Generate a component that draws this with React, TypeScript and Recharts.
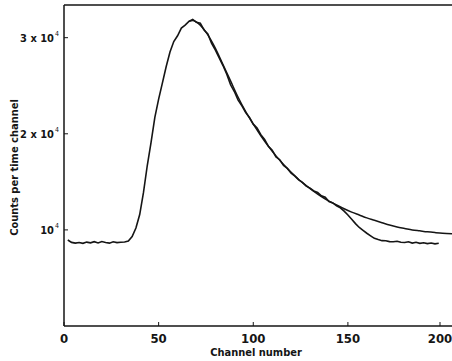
import { LineChart, Line, XAxis, YAxis, ReferenceLine } from "recharts";

// measured spectrum, every second channel
const channels = [
  2, 4, 6, 8, 10, 12, 14, 16, 18, 20, 22, 24, 26, 28, 30, 32, 34, 36, 38, 40,
  42, 44, 46, 48, 50, 52, 54, 56, 58, 60, 62, 64, 66, 68, 70, 72, 74, 76, 78, 80,
  82, 84, 86, 88, 90, 92, 94, 96, 98, 100, 102, 104, 106, 108, 110, 112, 114, 116, 118, 120,
  122, 124, 126, 128, 130, 132, 134, 136, 138, 140, 142, 144, 146, 148, 150, 152, 154, 156, 158, 160,
  162, 164, 166, 168, 170, 172, 174, 176, 178, 180, 182, 184, 186, 188, 190, 192, 194, 196, 198,
];
const counts = [
  8950, 8700, 8620, 8690, 8600, 8730, 8650, 8770, 8640, 8790, 8690, 8620, 8760, 8680, 8710, 8740, 8830, 9300, 10200, 11600,
  13900, 16700, 19100, 21700, 23600, 25300, 27000, 28500, 29600, 30200, 31000, 31300, 31700, 31900, 31600, 31500, 30800, 30400, 29400, 28700,
  27900, 27100, 26200, 25100, 24400, 23500, 22900, 22200, 21700, 21000, 20600, 19900, 19400, 18700, 18300, 17600, 17300, 16700, 16400, 15900,
  15600, 15200, 14950, 14550, 14350, 14050, 13900, 13550, 13400, 12950, 12800, 12500, 12300, 11950, 11550, 11100, 10650, 10250, 9950, 9650,
  9380, 9120, 8990, 8880, 8870, 8780, 8760, 8820, 8710, 8690, 8760, 8630, 8710, 8600, 8660, 8570, 8630, 8550, 8610,
];

// fitted decay curve
const fitChannels = [
  66, 68, 72, 76, 80, 84, 88, 92, 96, 100, 104, 108, 112, 116, 120, 124, 128, 132,
  136, 140, 144, 148, 152, 156, 160, 164, 168, 172, 176, 180, 184, 188, 192, 196, 200, 205,
];
const fitCounts = [
  31700, 31800, 31300, 30300, 28900, 27200, 25500, 23800, 22300, 21000, 19800, 18700, 17700, 16800, 16000, 15250, 14600, 14000,
  13450, 13000, 12600, 12200, 11850, 11550, 11250, 11000, 10750, 10500, 10300, 10150, 10000, 9900, 9800, 9720, 9650, 9600,
];

const xTicks = [0, 50, 100, 150, 200];
const topTicks = [50, 100, 150, 200];
const yTicks = [10000, 20000, 30000];
const yTickLabels: Record<number, [string, string]> = {
  10000: ["10", "4"],
  20000: ["2 x 10", "4"],
  30000: ["3 x 10", "4"],
};

const measured = channels.map((ch, i) => ({ ch, v: counts[i] }));
const fitted = fitChannels.map((ch, i) => ({ ch, v: fitCounts[i] }));

const FONT = "'DejaVu Sans Condensed', 'DejaVu Sans', sans-serif";
const INK = "#151515";

const XTick = ({ x, y, payload }: any) => (
  <g>
    <line x1={x} x2={x} y1={y} y2={y - 4} stroke={INK} strokeWidth={1} />
    <text x={x} y={y + 17} textAnchor="middle" fontSize={13} fontWeight={600} fontFamily={FONT} fill={INK}>
      {payload.value}
    </text>
  </g>
);

const TopTick = ({ x, y }: any) => (
  <line x1={x} x2={x} y1={y} y2={y + 4} stroke={INK} strokeWidth={1} />
);

const YTick = ({ x, y, payload }: any) => {
  const [base, exp] = yTickLabels[payload.value] ?? [String(payload.value), ""];
  return (
    <g>
      <line x1={x} x2={x + 4} y1={y} y2={y} stroke={INK} strokeWidth={1} />
      <text x={x - 10} y={y + 4} textAnchor="end" fontSize={11} fontWeight={600} fontFamily={FONT} fill={INK}>
        {base}
      </text>
      <text x={x - 9} y={y - 2} textAnchor="start" fontSize={7} fontFamily={FONT} fill={INK}>
        {exp}
      </text>
    </g>
  );
};

const YLabel = ({ viewBox }: any) => {
  const cx = 14;
  const cy = viewBox.y + viewBox.height / 2 + 2;
  return (
    <text
      x={cx}
      y={cy}
      transform={`rotate(-90 ${cx} ${cy})`}
      textAnchor="middle"
      dominantBaseline="central"
      fontSize={11}
      fontWeight={600}
      fontFamily={FONT}
      fill={INK}
    >
      Counts per time channel
    </text>
  );
};

const XLabel = ({ viewBox }: any) => (
  <text
    x={viewBox.x + viewBox.width / 2 - 2}
    y={viewBox.y + 30}
    textAnchor="middle"
    fontSize={11}
    fontWeight={600}
    fontFamily={FONT}
    fill={INK}
  >
    Channel number
  </text>
);

export default function App() {
  return (
    <div style={{ position: "absolute", left: 0, top: 0, width: 452, height: 361, background: "#fff" }}>
      <LineChart width={452} height={361} margin={{ top: 5, right: 0, bottom: 0, left: 0 }}>
        <XAxis
          dataKey="ch"
          type="number"
          domain={[0, 205]}
          ticks={xTicks}
          height={35}
          tickSize={0}
          tickMargin={0}
          tickLine={false}
          tick={<XTick />}
          axisLine={{ stroke: INK, strokeWidth: 1.5 }}
          allowDuplicatedCategory={false}
          label={<XLabel />}
        />
        <XAxis
          xAxisId="top"
          orientation="top"
          dataKey="ch"
          type="number"
          domain={[0, 205]}
          ticks={topTicks}
          height={0}
          tickSize={0}
          tickMargin={0}
          tickLine={false}
          tick={<TopTick />}
          axisLine={false}
        />
        <YAxis
          type="number"
          domain={[0, 33400]}
          ticks={yTicks}
          width={64}
          tickSize={0}
          tickMargin={0}
          tickLine={false}
          tick={<YTick />}
          axisLine={{ stroke: INK, strokeWidth: 1.5 }}
          label={<YLabel />}
        />
        <ReferenceLine y={33400} stroke={INK} strokeWidth={1.5} ifOverflow="visible" />
        <Line
          data={measured}
          dataKey="v"
          type="linear"
          stroke={INK}
          strokeWidth={1.6}
          dot={false}
          isAnimationActive={false}
        />
        <Line
          data={fitted}
          dataKey="v"
          type="monotone"
          stroke={INK}
          strokeWidth={1.5}
          dot={false}
          isAnimationActive={false}
        />
      </LineChart>
    </div>
  );
}
